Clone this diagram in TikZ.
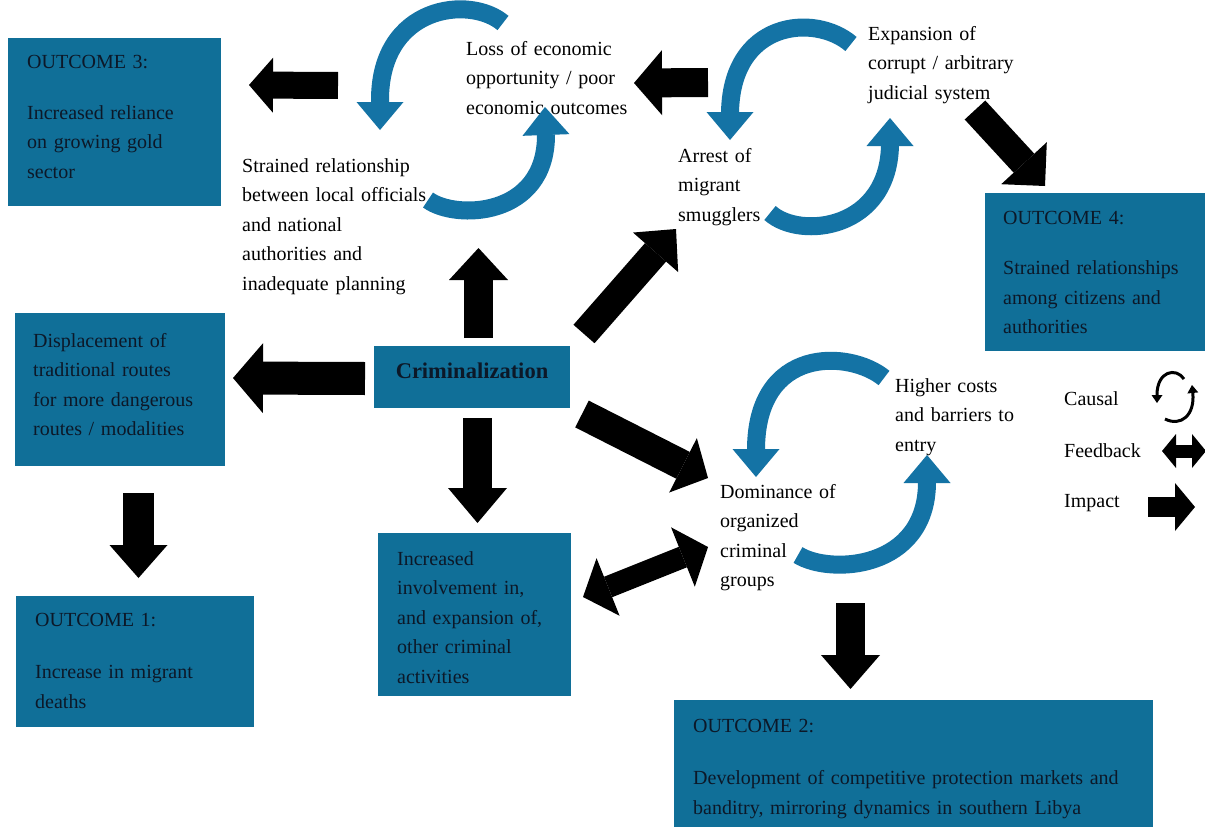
\documentclass[tikz,border=0pt]{standalone}
\usepackage{fontspec}
\setmainfont{Liberation Serif}
\usetikzlibrary{arrows.meta}
\definecolor{boxblue}{RGB}{16,111,152}
\definecolor{arcblue}{RGB}{20,115,165}
\definecolor{boxtext}{RGB}{12,24,40}
\newcommand{\fs}{\fontsize{20}{29.5}\selectfont}
\newcommand{\blockarr}[5]{\draw[line width=#1pt, line cap=butt, -{Triangle[width=#2pt,length=#3pt,line width=0pt]}] (#4) -- (#5);}
\newcommand{\looparr}[4]{\draw[arcblue, line width=18pt, line cap=butt, -{Triangle[width=47pt,length=28pt,line width=0pt]}] #1 .. controls #2 and #3 .. #4;}
\begin{document}
\begin{tikzpicture}[x=1pt,y=-1pt,
  box/.style={fill=boxblue, draw=none, inner sep=0pt},
  txt/.style={font=\fs, align=left, text width=#1, anchor=base west, inner sep=0pt},
  txt/.default=320pt,
  intxt/.style={txt=#1, text=boxtext},
  intxt/.default=320pt]
\useasboundingbox (0,0) rectangle (1205,827);
\fill[white] (0,0) rectangle (1205,827);

% boxes
\node[box, minimum width=213pt, minimum height=168pt] (o3) at (114.5,122) {};
\node[box, minimum width=220pt, minimum height=158pt] (o4) at (1095,272) {};
\node[box, minimum width=210pt, minimum height=153pt] (disp) at (120,389.5) {};
\node[box, minimum width=196pt, minimum height=62pt, font=\fontsize{22.5}{27}\selectfont\bfseries, text=boxtext, text height=16pt, text depth=13pt] (crim) at (472,377) {Criminalization};
\node[box, minimum width=238pt, minimum height=131pt] (o1) at (135,661.5) {};
\node[box, minimum width=193pt, minimum height=163pt] (inv) at (474.5,614.5) {};
\node[box, minimum width=479pt, minimum height=127pt] (o2) at (913.5,763.5) {};

% box texts
\node[intxt] (o3t) at (27,68) {OUTCOME 3:\\[21.5pt]Increased reliance\\on growing gold\\sector};
\node[intxt] (o4t) at (1003,224) {OUTCOME 4:\\[21pt]Strained relationships\\among citizens and\\authorities};
\node[intxt] (dispt) at (33,347) {Displacement of\\traditional routes\\for more dangerous\\routes / modalities};
\node[intxt] (o1t) at (35,626) {OUTCOME 1:\\[23pt]Increase in migrant\\deaths};
\node[intxt] (invt) at (397,565) {Increased\\involvement in,\\and expansion of,\\other criminal\\activities};
\node[intxt=470pt] (o2t) at (693,732) {OUTCOME 2:\\[23pt]Development of competitive protection markets and\\banditry, mirroring dynamics in southern Libya};

% free texts
\node[txt] (loss) at (466,55) {Loss of economic\\opportunity / poor\\economic outcomes};
\node[txt] (strain) at (242,172) {Strained relationship\\between local officials\\and national\\authorities and\\inadequate planning};
\node[txt] (arrest) at (678,162) {Arrest of\\migrant\\smugglers};
\node[txt] (expan) at (868,40) {Expansion of\\corrupt / arbitrary\\judicial system};
\node[txt] (higher) at (895,392) {Higher costs\\and barriers to\\entry};
\node[txt] (domin) at (720,498) {Dominance of\\organized\\criminal\\groups};
\node[txt] (lcausal) at (1064,405) {Causal};
\node[txt] (lfeed) at (1064,457) {Feedback};
\node[txt] (limpact) at (1064,507) {Impact};

% causal loops
\looparr{(503,23)}{(470,-5)}{(380,5)}{(380,100) -- (380,130)}
\looparr{(428,200)}{(455,220)}{(546,218)}{(546,135) -- (545,107)}
\looparr{(851,44)}{(815,13)}{(730,20)}{(730,115) -- (730,140)}
\looparr{(770,213)}{(800,240)}{(890,230)}{(890,143) -- (890,118)}
\looparr{(884,378)}{(850,350)}{(756,345)}{(756,450) -- (756,477)}
\looparr{(798,555)}{(830,575)}{(927,570)}{(927,482) -- (927,455)}

% impact arrows
\coordinate (a1s) at (338,85.5); \coordinate (a1e) at (249,85);
\blockarr{27}{55}{24}{a1s}{a1e}
\coordinate (a2s) at (708,82.5); \coordinate (a2e) at (634,83);
\blockarr{29}{65}{28}{a2s}{a2e}
\coordinate (a3s) at (975,110); \coordinate (a3e) at (1045,186);
\blockarr{28}{62}{31}{a3s}{a3e}
\coordinate (a4s) at (478.5,338); \coordinate (a4e) at (478.5,248);
\blockarr{29}{59}{32}{a4s}{a4e}
\coordinate (a5s) at (584,334); \coordinate (a5e) at (676,229);
\blockarr{28}{60}{31}{a5s}{a5e}
\coordinate (a6s) at (365,378.5); \coordinate (a6e) at (233,378);
\blockarr{33}{70}{30}{a6s}{a6e}
\coordinate (a7s) at (477.5,418); \coordinate (a7e) at (477.5,523);
\blockarr{29}{59}{35}{a7s}{a7e}
\coordinate (a8s) at (582,414); \coordinate (a8e) at (708,478);
\blockarr{30}{61}{28}{a8s}{a8e}
\coordinate (a10s) at (138.5,493); \coordinate (a10e) at (138.5,578);
\blockarr{31}{58}{33}{a10s}{a10e}
\coordinate (a11s) at (850.5,603); \coordinate (a11e) at (850.5,689);
\blockarr{29}{59}{34}{a11s}{a11e}
% feedback arrow
\coordinate (fbA) at (583,597); \coordinate (fbB) at (708,547);
\draw[line width=22pt, {Triangle[width=62pt,length=27pt,line width=0pt]}-{Triangle[width=64pt,length=27pt,line width=0pt]}] (fbA) -- (fbB);

% legend icons
\draw[line width=3pt, -{Triangle[width=11pt,length=8pt,line width=0pt]}] (1184,379) .. controls (1176,367) and (1157,371) .. (1157,403);
\draw[line width=3pt, -{Triangle[width=11pt,length=8pt,line width=0pt]}] (1165,419) .. controls (1181,427) and (1195,415) .. (1192,385);
\coordinate (lfA) at (1162,451); \coordinate (lfB) at (1206,451);
\draw[line width=13pt, {Triangle[width=34pt,length=14pt,line width=0pt]}-{Triangle[width=34pt,length=14pt,line width=0pt]}] (lfA) -- (lfB);
\coordinate (liA) at (1148,507); \coordinate (liB) at (1195,507);
\blockarr{20}{48}{20}{liA}{liB}
\end{tikzpicture}
\end{document}
